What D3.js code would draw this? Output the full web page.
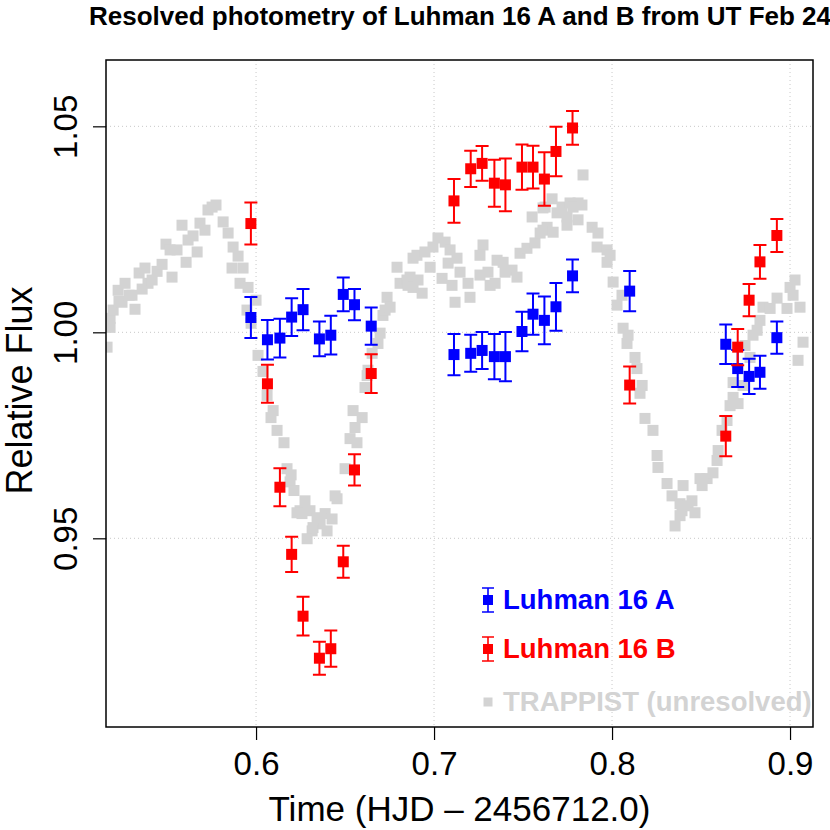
<!DOCTYPE html>
<html><head><meta charset="utf-8">
<script src="https://cdn.jsdelivr.net/npm/d3@7/dist/d3.min.js"></script>
<style>
body{margin:0;background:#fff}
svg{display:block}
text{font-family:"Liberation Sans",Arial,Helvetica,sans-serif}
</style>
</head><body>
<svg id="chart" width="830" height="830"></svg>
<script>
// ---------------- data ----------------
const epochs = [0.5971,0.6064,0.6134,0.6200,0.6264,0.6356,0.6420,0.6490,0.6553,0.6647,
  0.7112,0.7206,0.7270,0.7339,0.7401,0.7494,0.7556,0.7620,0.7685,0.7778,
  0.8099,0.8639,0.8706,0.8770,0.8831,0.8926];
const fluxA = [1.0036,0.9982,0.9986,1.0037,1.0055,0.9984,0.9993,1.0092,1.0067,1.0015,
  0.9946,0.9949,0.9956,0.9941,0.9941,1.0002,1.0044,1.0029,1.0062,1.0137,
  1.0100,0.9971,0.9912,0.9893,0.9903,0.9987];
const errA = [0.0050,0.0048,0.0047,0.0046,0.0050,0.0042,0.0047,0.0041,0.0038,0.0045,
  0.0050,0.0045,0.0045,0.0055,0.0060,0.0048,0.0050,0.0058,0.0058,0.0040,
  0.0049,0.0048,0.0045,0.0043,0.0040,0.0039];
const fluxB = [1.0264,0.9875,0.9624,0.9461,0.9311,0.9209,0.9232,0.9443,0.9666,0.9900,
  1.0319,1.0397,1.0410,1.0362,1.0358,1.0401,1.0401,1.0372,1.0439,1.0496,
  0.9872,0.9748,0.9964,1.0078,1.0171,1.0235];
const errB = [0.0051,0.0046,0.0046,0.0043,0.0047,0.0040,0.0044,0.0039,0.0038,0.0047,
  0.0053,0.0044,0.0042,0.0057,0.0064,0.0055,0.0052,0.0065,0.0060,0.0041,
  0.0045,0.0049,0.0044,0.0039,0.0041,0.0040];

const trapT = [0.5163,0.5180,0.5180,0.5197,0.5225,0.5230,0.5247,0.5264,0.5287,0.5303,
  0.5320,0.5343,0.5360,0.5376,0.5393,0.5416,0.5444,0.5472,0.5494,0.5517,
  0.5528,0.5556,0.5584,0.5607,0.5618,0.5646,0.5669,0.5685,0.5713,0.5730,
  0.5753,0.5775,0.5815,0.5843,0.5871,0.5899,0.5865,0.5927,0.5910,0.5955,
  0.6000,0.5949,0.5972,0.6011,0.6039,0.6062,0.6096,0.6084,0.6118,0.6157,
  0.6174,0.6197,0.6191,0.6213,0.6275,0.6247,0.6303,0.6230,0.6258,0.6343,
  0.6388,0.6427,0.6360,0.6320,0.6399,0.6315,0.6287,0.6444,0.6455,0.6500,
  0.6528,0.6567,0.6556,0.6596,0.6545,0.6612,0.6624,0.6629,0.6652,0.6685,
  0.6697,0.6713,0.6725,0.6736,0.6753,0.6792,0.6809,0.6848,0.6865,0.6854,
  0.6882,0.6882,0.6910,0.6933,0.6904,0.6949,0.6978,0.6994,0.7022,0.7062,
  0.7090,0.7079,0.7129,0.7045,0.7146,0.7101,0.7191,0.7118,0.7202,0.7258,
  0.7275,0.7258,0.7303,0.7315,0.7343,0.7354,0.7388,0.7399,0.7438,0.7466,
  0.7483,0.7522,0.7551,0.7567,0.7596,0.7612,0.7635,0.7624,0.7669,0.7691,
  0.7663,0.7612,0.7719,0.7747,0.7764,0.7809,0.7809,0.7781,0.7831,0.7837,
  0.7747,0.7888,0.7921,0.7916,0.7972,0.7989,0.7972,0.8006,0.8056,0.8028,
  0.8062,0.8090,0.8084,0.8129,0.8140,0.8169,0.8157,0.8185,0.8230,0.8253,
  0.8258,0.8309,0.8337,0.8399,0.8382,0.8393,0.8427,0.8466,0.8382,0.8354,
  0.8449,0.8506,0.8494,0.8534,0.8567,0.8590,0.8596,0.8618,0.8646,0.8663,
  0.8708,0.8680,0.8680,0.8736,0.8747,0.8775,0.8792,0.8815,0.8831,0.8848,
  0.8888,0.8927,0.8983,0.9000,0.9017,0.9028,0.9056,0.9073,0.9045];
const trapF = [0.9964,1.0012,1.0034,1.0054,1.0102,1.0075,1.0073,1.0119,1.0090,1.0090,
  1.0056,1.0144,1.0105,1.0156,1.0119,1.0127,1.0148,1.0165,1.0214,1.0200,
  1.0134,1.0200,1.0260,1.0170,1.0224,1.0234,1.0195,1.0265,1.0248,1.0297,
  1.0304,1.0309,1.0268,1.0241,1.0207,1.0185,1.0156,1.0156,1.0119,1.0109,
  1.0078,1.0054,1.0022,0.9944,0.9905,0.9847,0.9810,0.9793,0.9762,0.9732,
  0.9669,0.9654,0.9637,0.9616,0.9591,0.9567,0.9567,0.9562,0.9560,0.9550,
  0.9560,0.9547,0.9535,0.9526,0.9518,0.9518,0.9499,0.9603,0.9596,0.9669,
  0.9742,0.9732,0.9769,0.9793,0.9810,0.9866,0.9895,0.9908,0.9949,0.9973,
  0.9998,1.0041,1.0054,1.0085,1.0061,1.0158,1.0119,1.0127,1.0134,1.0114,
  1.0180,1.0109,1.0127,1.0095,1.0187,1.0195,1.0158,1.0207,1.0229,1.0219,
  1.0200,1.0168,1.0180,1.0131,1.0146,1.0114,1.0119,1.0073,1.0085,1.0139,
  1.0212,1.0187,1.0146,1.0114,1.0119,1.0175,1.0170,1.0146,1.0151,1.0134,
  1.0192,1.0204,1.0280,1.0217,1.0241,1.0248,1.0255,1.0304,1.0243,1.0290,
  1.0324,1.0302,1.0304,1.0280,1.0314,1.0273,1.0314,1.0304,1.0309,1.0382,
  1.0260,1.0255,1.0241,1.0207,1.0200,1.0187,1.0170,1.0122,1.0090,1.0066,
  1.0010,0.9993,0.9973,0.9939,0.9912,0.9871,0.9852,0.9791,0.9762,0.9701,
  0.9672,0.9633,0.9603,0.9628,0.9584,0.9567,0.9579,0.9562,0.9555,0.9530,
  0.9591,0.9628,0.9645,0.9645,0.9659,0.9689,0.9713,0.9762,0.9786,0.9822,
  0.9827,0.9842,0.9878,0.9871,0.9968,0.9939,0.9993,1.0005,1.0029,1.0061,
  1.0058,1.0083,1.0058,1.0109,1.0090,1.0127,1.0061,0.9976,0.9932];

const xTicks = [0.6, 0.7, 0.8, 0.9];
const yTicks = [0.95, 1.00, 1.05];
const seriesNames = ["Luhman 16 A", "Luhman 16 B", "TRAPPIST (unresolved)"];
const titleText = "Resolved photometry of Luhman 16 A and B from UT Feb 24";
const xTitle = "Time (HJD \u2013 2456712.0)";
const yTitle = "Relative Flux";

// ---------------- layout ----------------
const colA = "#0000ff", colB = "#ff0000", colT = "#d3d3d3";
const pL = 106, pR = 813, pT = 60, pB = 727;
const svg = d3.select("#chart");

const x = d3.scaleLinear().domain([0.5157, 0.9129]).range([pL, pR]);
const y = d3.scaleLinear().domain([0.9042, 1.0661]).range([pB, pT]);

svg.append("defs").append("clipPath").attr("id", "plotclip")
  .append("rect").attr("x", pL).attr("y", pT)
  .attr("width", pR - pL).attr("height", pB - pT);

// grid
const grid = svg.append("g").attr("stroke", "#c8c8c8").attr("stroke-width", 1)
  .attr("stroke-dasharray", "1,3");
grid.selectAll("line.gx").data(xTicks).join("line").attr("class", "gx")
  .attr("x1", d => x(d)).attr("x2", d => x(d)).attr("y1", pT).attr("y2", pB);
grid.selectAll("line.gy").data(yTicks).join("line").attr("class", "gy")
  .attr("y1", d => y(d)).attr("y2", d => y(d)).attr("x1", pL).attr("x2", pR);

// TRAPPIST points
const plot = svg.append("g").attr("clip-path", "url(#plotclip)");
const trap = trapT.map((t, i) => ({t, f: trapF[i]}));
const gs = 11;
plot.append("g").selectAll("rect").data(trap).join("rect")
  .attr("x", d => x(d.t) - gs / 2).attr("y", d => y(d.f) - gs / 2)
  .attr("width", gs).attr("height", gs).attr("fill", colT);

// resolved series with error bars
function drawSeries(flux, err, col) {
  const data = epochs.map((t, i) => ({t, f: flux[i], e: err[i]}));
  const g = plot.append("g");
  const cap = 6.5, sz = 11;
  g.selectAll("path").data(data).join("path")
    .attr("d", d => {
      const cx = x(d.t), y1 = y(d.f + d.e), y2 = y(d.f - d.e);
      return `M${cx},${y1}V${y2}M${cx - cap},${y1}H${cx + cap}M${cx - cap},${y2}H${cx + cap}`;
    })
    .attr("stroke", col).attr("stroke-width", 2).attr("fill", "none");
  g.selectAll("rect").data(data).join("rect")
    .attr("x", d => x(d.t) - sz / 2).attr("y", d => y(d.f) - sz / 2)
    .attr("width", sz).attr("height", sz).attr("fill", col);
}
drawSeries(fluxA, errA, colA);
drawSeries(fluxB, errB, colB);

// frame
svg.append("rect").attr("x", pL).attr("y", pT)
  .attr("width", pR - pL).attr("height", pB - pT)
  .attr("fill", "none").attr("stroke", "#000").attr("stroke-width", 1.5);

// axes
const xAxis = svg.append("g").attr("transform", `translate(0,${pB})`)
  .call(d3.axisBottom(x).tickValues(xTicks).tickSize(13).tickFormat(d3.format(".1f")));
xAxis.select(".domain").remove();
xAxis.selectAll(".tick line").attr("stroke", "#000").attr("stroke-width", 1.2);
xAxis.selectAll(".tick text").attr("y", 48).attr("dy", null)
  .attr("font-size", 33).attr("fill", "#000")
  .attr("font-family", "'Liberation Sans',Arial,sans-serif");

const yAxis = svg.append("g").attr("transform", `translate(${pL},0)`)
  .call(d3.axisLeft(y).tickValues(yTicks).tickSize(13).tickFormat(d3.format(".2f")));
yAxis.select(".domain").remove();
yAxis.selectAll(".tick line").attr("stroke", "#000").attr("stroke-width", 1.2);
yAxis.selectAll(".tick text")
  .attr("x", null).attr("dy", null)
  .attr("transform", "translate(-29,0) rotate(-90)")
  .attr("text-anchor", "middle")
  .attr("font-size", 33).attr("fill", "#000")
  .attr("font-family", "'Liberation Sans',Arial,sans-serif");

// titles
svg.append("text").attr("x", 460).attr("y", 25).attr("text-anchor", "middle")
  .attr("font-size", 26).attr("font-weight", "bold").text(titleText);
svg.append("text").attr("x", (pL + pR) / 2).attr("y", 821).attr("text-anchor", "middle")
  .attr("font-size", 35).text(xTitle);
svg.append("text").attr("transform", `translate(32,${(pT + pB) / 2 - 3}) rotate(-90)`)
  .attr("text-anchor", "middle").attr("font-size", 36).text(yTitle);

// legend
const lx = 488, ly = 600, lstep = 49;
const legendCols = [colA, colB, colT];
const leg = svg.append("g");
seriesNames.forEach((name, i) => {
  const cy = ly + i * lstep + (i === 2 ? 4 : 0);
  const col = legendCols[i];
  if (i < 2) {
    leg.append("path")
      .attr("d", `M${lx},${cy - 12}V${cy + 12}M${lx - 6},${cy - 12}H${lx + 6}M${lx - 6},${cy + 12}H${lx + 6}`)
      .attr("stroke", col).attr("stroke-width", 1.6).attr("fill", "none");
    leg.append("rect").attr("x", lx - 5).attr("y", cy - 5).attr("width", 10).attr("height", 10).attr("fill", col);
  } else {
    leg.append("rect").attr("x", lx - 4.5).attr("y", cy - 4.5).attr("width", 9).attr("height", 9).attr("fill", col);
  }
  leg.append("text").attr("x", lx + 15).attr("y", cy + 9)
    .attr("font-size", 27.5).attr("font-weight", "bold").attr("fill", col).text(name);
});
</script>
</body></html>
